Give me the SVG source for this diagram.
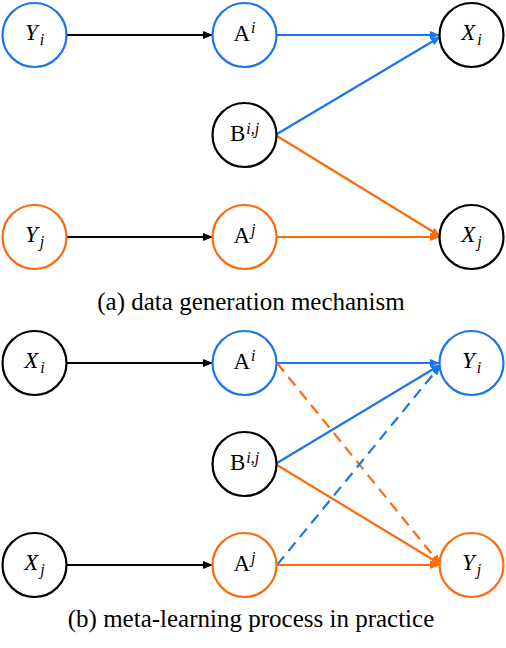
<svg xmlns="http://www.w3.org/2000/svg" width="506" height="648" viewBox="0 0 506 648">
<style>
.n{fill:#fff;stroke-width:2.2}
.k{stroke:#000}.b{stroke:#1A75F0}.o{stroke:#FF6A0A}
text{font-family:'Liberation Serif','Times New Roman','DejaVu Serif',serif;fill:#000;text-anchor:middle}
.t{font-size:23px}
.i{font-style:italic}
.s{font-size:16px;font-style:italic}
.e{fill:none;stroke-width:2.2}
.d{stroke-dasharray:11 7}
.cap{font-size:25px}
</style>
<defs>
<marker id="ak" markerWidth="10" markerHeight="8" refX="9" refY="4" orient="auto" markerUnits="userSpaceOnUse"><path d="M0,0L10,4L0,8z" fill="#000"/></marker>
<marker id="ab" markerWidth="10" markerHeight="8" refX="9" refY="4" orient="auto" markerUnits="userSpaceOnUse"><path d="M0,0L10,4L0,8z" fill="#1A75F0"/></marker>
<marker id="ao" markerWidth="10" markerHeight="8" refX="9" refY="4" orient="auto" markerUnits="userSpaceOnUse"><path d="M0,0L10,4L0,8z" fill="#FF6A0A"/></marker>
</defs>
<g id="edges">
<line class="e k" x1="67" y1="35" x2="212" y2="35" marker-end="url(#ak)"/>
<line class="e b" x1="277" y1="35" x2="439" y2="35" marker-end="url(#ab)"/>
<line class="e b" x1="277" y1="134" x2="440" y2="37" marker-end="url(#ab)"/>
<line class="e o" x1="277" y1="136" x2="440" y2="236" marker-end="url(#ao)"/>
<line class="e k" x1="67" y1="237" x2="212" y2="237" marker-end="url(#ak)"/>
<line class="e o" x1="277" y1="237" x2="439" y2="237" marker-end="url(#ao)"/>
<line class="e k" x1="67" y1="363" x2="212" y2="363" marker-end="url(#ak)"/>
<line class="e b" x1="277" y1="363" x2="439" y2="363" marker-end="url(#ab)"/>
<line class="e o d" x1="277" y1="363" x2="440" y2="564" marker-end="url(#ao)"/>
<line class="e b" x1="277" y1="463" x2="440" y2="365" marker-end="url(#ab)"/>
<line class="e o" x1="277" y1="465" x2="440" y2="564" marker-end="url(#ao)"/>
<line class="e b d" x1="277" y1="565" x2="440" y2="366" marker-end="url(#ab)"/>
<line class="e k" x1="67" y1="565" x2="212" y2="565" marker-end="url(#ak)"/>
<line class="e o" x1="277" y1="565" x2="439" y2="565" marker-end="url(#ao)"/>
</g>
<g id="Yi_a"><circle class="n b" cx="34.5" cy="35" r="32"/><text class="t" x="34.5" y="40"><tspan class="i">Y</tspan><tspan class="s" dy="5" dx="2">i</tspan></text></g>
<g id="Ai_a"><circle class="n b" cx="244.5" cy="35" r="32"/><text class="t" x="244.5" y="41">A<tspan class="s" dy="-8" dx="1">i</tspan></text></g>
<g id="Xi_a"><circle class="n k" cx="471.5" cy="35" r="32"/><text class="t" x="471.5" y="40"><tspan class="i">X</tspan><tspan class="s" dy="5" dx="2">i</tspan></text></g>
<g id="Bij_a"><circle class="n k" cx="244.5" cy="135" r="32"/><text class="t" x="244.5" y="141">B<tspan class="s" dy="-7" dx="1">i,j</tspan></text></g>
<g id="Yj_a"><circle class="n o" cx="34.5" cy="237" r="32"/><text class="t" x="34.5" y="242"><tspan class="i">Y</tspan><tspan class="s" dy="5" dx="2">j</tspan></text></g>
<g id="Aj_a"><circle class="n o" cx="244.5" cy="237" r="32"/><text class="t" x="244.5" y="243">A<tspan class="s" dy="-8" dx="1">j</tspan></text></g>
<g id="Xj_a"><circle class="n k" cx="471.5" cy="237" r="32"/><text class="t" x="471.5" y="242"><tspan class="i">X</tspan><tspan class="s" dy="5" dx="2">j</tspan></text></g>
<text class="cap" x="251" y="310">(a) data generation mechanism</text>
<g id="Xi_b"><circle class="n k" cx="34.5" cy="363" r="32"/><text class="t" x="34.5" y="368"><tspan class="i">X</tspan><tspan class="s" dy="5" dx="2">i</tspan></text></g>
<g id="Ai_b"><circle class="n b" cx="244.5" cy="363" r="32"/><text class="t" x="244.5" y="369">A<tspan class="s" dy="-8" dx="1">i</tspan></text></g>
<g id="Yi_b"><circle class="n b" cx="471.5" cy="363" r="32"/><text class="t" x="471.5" y="368"><tspan class="i">Y</tspan><tspan class="s" dy="5" dx="2">i</tspan></text></g>
<g id="Bij_b"><circle class="n k" cx="244.5" cy="464" r="32"/><text class="t" x="244.5" y="470">B<tspan class="s" dy="-7" dx="1">i,j</tspan></text></g>
<g id="Xj_b"><circle class="n k" cx="34.5" cy="565" r="32"/><text class="t" x="34.5" y="570"><tspan class="i">X</tspan><tspan class="s" dy="5" dx="2">j</tspan></text></g>
<g id="Aj_b"><circle class="n o" cx="244.5" cy="565" r="32"/><text class="t" x="244.5" y="571">A<tspan class="s" dy="-8" dx="1">j</tspan></text></g>
<g id="Yj_b"><circle class="n o" cx="471.5" cy="565" r="32"/><text class="t" x="471.5" y="570"><tspan class="i">Y</tspan><tspan class="s" dy="5" dx="2">j</tspan></text></g>
<text class="cap" x="251" y="627">(b) meta-learning process in practice</text>
</svg>
